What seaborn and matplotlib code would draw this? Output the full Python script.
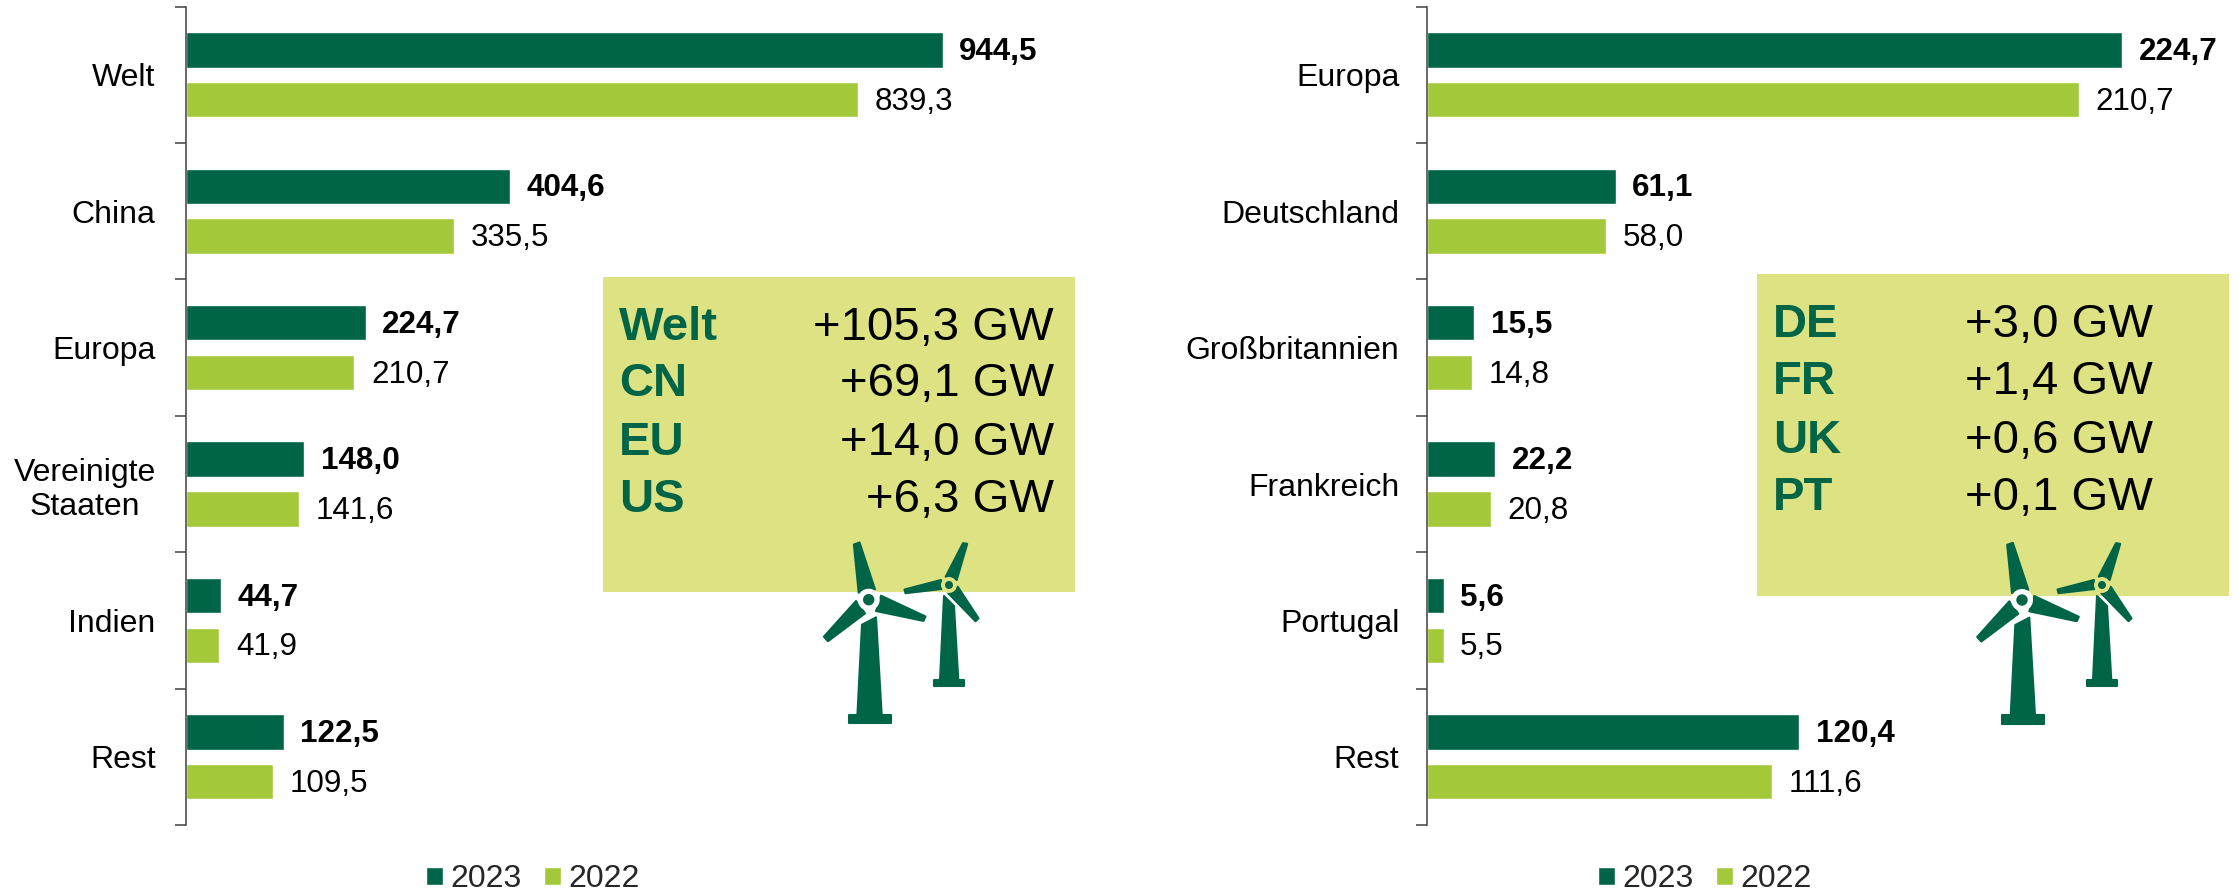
import matplotlib
matplotlib.use("Agg")
import matplotlib.pyplot as plt
import pandas as pd
import seaborn as sns
from matplotlib.patches import Circle, Polygon, Rectangle

sns.set_theme(style="white")
plt.rcParams["font.family"] = ["Liberation Sans", "DejaVu Sans"]

W, H = 2239, 894
DARK, LIGHT, BOX = "#006446", "#A3C93A", "#DDE283"
AXIS = "#404040"
FS_TICK, FS_VAL, FS_LEG, FS_BOX = 23, 22.6, 23, 34

years = ["2023", "2022"]
world_cats = ["Welt", "China", "Europa", "Vereinigte\nStaaten", "Indien", "Rest"]
world_2023 = [944.5, 404.6, 224.7, 148.0, 44.7, 122.5]
world_2022 = [839.3, 335.5, 210.7, 141.6, 41.9, 109.5]
europe_cats = ["Europa", "Deutschland", "Großbritannien", "Frankreich", "Portugal", "Rest"]
europe_2023 = [224.7, 61.1, 15.5, 22.2, 5.6, 120.4]
europe_2022 = [210.7, 58.0, 14.8, 20.8, 5.5, 111.6]
world_box_names = ["Welt", "CN", "EU", "US"]
world_box_vals = ["+105,3 GW", "+69,1 GW", "+14,0 GW", "+6,3 GW"]
europe_box_names = ["DE", "FR", "UK", "PT"]
europe_box_vals = ["+3,0 GW", "+1,4 GW", "+0,6 GW", "+0,1 GW"]

fig = plt.figure(figsize=(W / 100, H / 100), dpi=100)
fig.patch.set_facecolor("white")


def fx(x):
    return x / W


def fy(y):
    return 1 - y / H


def dec(v):
    return f"{v:.1f}".replace(".", ",")


def panel(x0, x1, xmax, cats, v23, v22, pad, legend_x):
    ax = fig.add_axes([fx(x0), fy(825), (x1 - x0) / W, (825 - 6.7) / H])
    ax.patch.set_visible(False)
    df = pd.DataFrame({
        "cat": cats * 2,
        "year": [years[0]] * len(cats) + [years[1]] * len(cats),
        "val": list(v23) + list(v22),
    })
    sns.barplot(data=df, y="cat", x="val", hue="year", hue_order=years,
                palette=[DARK, LIGHT], width=0.73, gap=0.29, saturation=1,
                ax=ax, orient="h", order=cats)
    ax.set_xlim(0, xmax)
    ax.set_ylim(len(cats) - 0.5, -0.5)
    ax.set_xlabel("")
    ax.set_ylabel("")
    ax.set_xticks([])
    for s in ["top", "right", "bottom"]:
        ax.spines[s].set_visible(False)
    ax.spines["left"].set_color(AXIS)
    ax.spines["left"].set_linewidth(1.1)
    ax.set_yticks(range(len(cats)))
    ax.set_yticks([i - 0.5 for i in range(len(cats) + 1)], minor=True)
    ax.tick_params(axis="y", which="major", length=0, pad=pad, labelsize=FS_TICK, labelcolor="black")
    ax.tick_params(axis="y", which="minor", length=7.7, width=1.1, color=AXIS, left=True)
    for t in ax.get_yticklabels():
        t.set_multialignment("center")
    top = ax.bar_label(ax.containers[0], labels=[dec(v) for v in v23], padding=12,
                       fontsize=FS_VAL, fontweight="bold", color="black")
    low = ax.bar_label(ax.containers[1], labels=[dec(v) for v in v22], padding=12,
                       fontsize=FS_VAL, color="black")
    for t in list(top) + list(low):
        t.xyann = (t.xyann[0], -1.5)
    sns.move_legend(ax, "center left", bbox_to_anchor=(fx(legend_x), fy(879)),
                    bbox_transform=fig.transFigure, ncol=2, title=None, frameon=False,
                    fontsize=FS_LEG, handlelength=0.53, handleheight=0.5, handletextpad=0.22,
                    columnspacing=0.72, borderpad=0, borderaxespad=0)
    return ax


panel(185.5, 1075, 1109.6, world_cats, world_2023, world_2022, 21.5, 426)
panel(1426.5, 2229, 259.3, europe_cats, europe_2023, europe_2022, 19.5, 1598)


def add_box(left, right, top, bottom, names, vals, x_name, x_val, baselines):
    fig.add_artist(Rectangle((fx(left), fy(bottom)), (right - left) / W, (bottom - top) / H,
                             transform=fig.transFigure, fc=BOX, ec="none", zorder=5))
    for n, v, b in zip(names, vals, baselines):
        fig.text(fx(x_name), fy(b), n, color=DARK, fontsize=FS_BOX, fontweight="bold",
                 ha="left", va="baseline", zorder=8)
        fig.text(fx(x_val), fy(b), v, color="black", fontsize=FS_BOX,
                 ha="right", va="baseline", zorder=8)


add_box(603, 1075, 277, 592, world_box_names, world_box_vals, 619, 1054, [340, 396, 455, 512])
add_box(1757, 2229, 274, 596, europe_box_names, europe_box_vals, 1773, 2153, [337, 394, 453, 510])

BIG = {
    "parts": [
        [(-10, -7), (-14.8, -55.2), (-9.2, -57.2), (6.3, -10.3)],
        [(12.3, -4), (56.8, 16.8), (54.7, 21.2), (7.3, 11.3)],
        [(-12.7, 1.3), (-44.8, 37), (-40.7, 41.5), (-3.7, 13.7)],
        [(-6.7, 25), (7.3, 17.7), (13, 115.3), (-11.3, 115.3)],
        [(-19.7, 115.3), (22, 115.3), (22, 123.7), (-19.7, 123.7)],
    ],
    "ring": 11, "hub": 5.7, "ring_color": "white",
}
SMALL = {
    "parts": [
        [(-3.3, -8.3), (14, -41.8), (18.2, -41.2), (7.7, -5)],
        [(-8, -5), (-44.5, 4.5), (-43.5, 8.2), (-7.3, 4)],
        [(8.7, 1.7), (29.5, 33.3), (26.5, 36.2), (-0.7, 8.3)],
        [(-5, 11), (5, 21), (9.3, 95), (-9, 95)],
        [(-15, 95), (15, 95), (15, 100.7), (-15, 100.7)],
    ],
    "ring": 8, "hub": 4, "ring_color": BOX,
}


def turbine(cx, cy, spec):
    for part in spec["parts"]:
        pts = [(fx(cx + a), fy(cy + b)) for a, b in part]
        fig.add_artist(Polygon(pts, closed=True, transform=fig.transFigure, fc=DARK, ec=DARK,
                               lw=1.5, joinstyle="round", zorder=6))
    tr = fig.dpi_scale_trans
    for r, c in [(spec["ring"], spec["ring_color"]), (spec["hub"], DARK)]:
        fig.add_artist(Circle((cx / 100, (H - cy) / 100), r / 100, transform=tr,
                              fc=c, ec="none", zorder=7))


turbine(868.7, 599.7, BIG)
turbine(949, 585, SMALL)
turbine(2022, 600, BIG)
turbine(2102, 585, SMALL)

fig.savefig("out.png", dpi=100, facecolor="white")
